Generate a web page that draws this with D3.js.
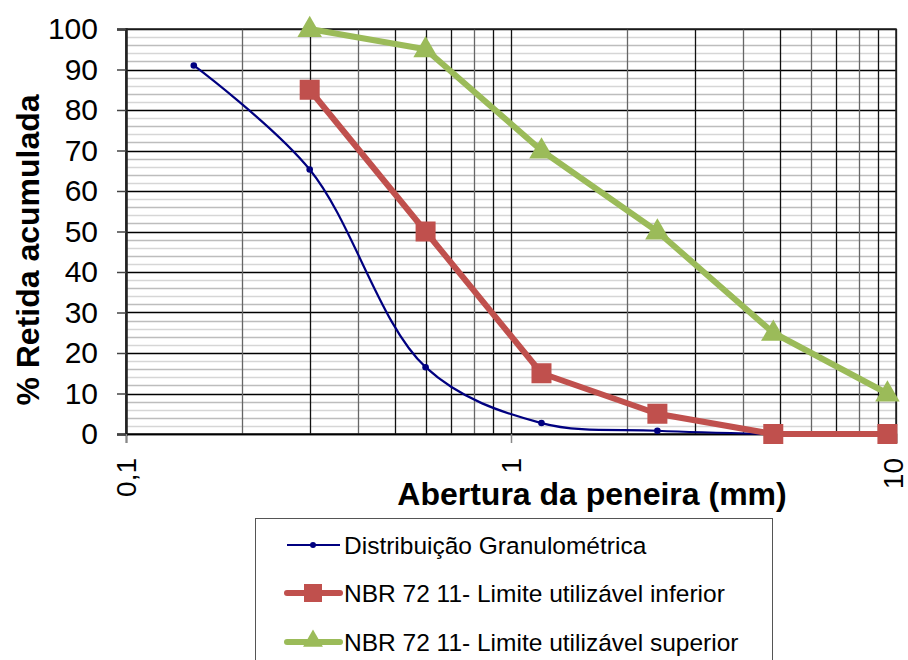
<!DOCTYPE html>
<html>
<head>
<meta charset="utf-8">
<script src="https://cdn.jsdelivr.net/npm/d3@7"></script>
<style>
  body { margin: 0; background: #fff; }
  svg { display: block; font-family: "Liberation Sans", Arial, sans-serif; }
</style>
</head>
<body>
<svg id="chart" width="908" height="660"></svg>
<script>
// sieve openings (mm) and cumulative retained (%)
const sieves = [0.15, 0.3, 0.6, 1.2, 2.4, 4.8];
const distribuicao = [91, 65.3, 16.5, 2.7, 0.8, 0];
const limSieves = [0.3, 0.6, 1.2, 2.4, 4.8, 9.5];
const limInferior = [85, 50, 15, 5, 0, 0];
const limSuperior = [100, 95, 70, 50, 25, 10];
const xTicks = [0.1, 1, 10];
const yTicks = [0, 10, 20, 30, 40, 50, 60, 70, 80, 90, 100];
const seriesNames = [
	"Distribuição Granulométrica",
	"NBR 72 11- Limite utilizável inferior",
	"NBR 72 11- Limite utilizável superior"
];

const svg = d3.select("#chart"),
	margin = {top: 29, left: 126},
	width = 770,
	height = 405;

const x = d3.scaleLog().domain([0.1, 10]).range([margin.left, margin.left + width]);
const y = d3.scaleLinear().domain([0, 100]).range([margin.top + height, margin.top]);

// horizontal grid, every 2 units
const grid = svg.append("g");
d3.range(0, 101, 2).forEach(v => {
	const major = v % 10 === 0;
	grid.append("line")
		.attr("x1", margin.left).attr("x2", margin.left + width)
		.attr("y1", Math.round(y(v)) + 0.5).attr("y2", Math.round(y(v)) + 0.5)
		.attr("stroke", major ? "#000" : (v % 4 === 0 ? "#bdbdbd" : "#d6d6d6"))
		.attr("stroke-width", major ? 1.3 : 1.6);
});

// vertical grid on every log tick
x.ticks().forEach(v => {
	const lead = +v.toPrecision(1) / Math.pow(10, Math.floor(Math.log10(v) + 1e-9));
	grid.append("line")
		.attr("x1", Math.round(x(v)) + 0.5).attr("x2", Math.round(x(v)) + 0.5)
		.attr("y1", margin.top).attr("y2", margin.top + height)
		.attr("stroke", lead % 2 === 0 ? "#666" : "#111")
		.attr("stroke-width", 1.3);
});

// plot frame
svg.append("rect")
	.attr("x", margin.left).attr("y", margin.top)
	.attr("width", width).attr("height", height)
	.attr("fill", "none").attr("stroke", "#222").attr("stroke-width", 1.5);

// y axis
const yAxis = svg.append("g")
	.attr("transform", `translate(${margin.left},0)`)
	.call(d3.axisLeft(y).tickValues(yTicks).tickSize(9).tickPadding(19))
	.call(g => g.select(".domain").attr("stroke", "#222").attr("stroke-width", 2.5));
yAxis.selectAll(".tick line").attr("stroke", "#444").attr("stroke-width", 1.5);
yAxis.selectAll("text").attr("font-size", 30).attr("fill", "#000")
	.attr("font-family", "Liberation Sans, Arial, sans-serif");

// x axis, labels turned up
const xAxis = svg.append("g")
	.attr("transform", `translate(0,${margin.top + height})`)
	.call(d3.axisBottom(x).tickValues(xTicks).tickSize(9)
		.tickFormat(d => String(d).replace(".", ",")))
	.call(g => g.select(".domain").attr("stroke", "#000").attr("stroke-width", 1.5));
xAxis.selectAll(".tick line").attr("stroke", "#888").attr("stroke-width", 1.5);
xAxis.selectAll("text")
	.attr("font-size", 28).attr("fill", "#000")
	.attr("font-family", "Liberation Sans, Arial, sans-serif")
	.attr("transform", "rotate(-90)")
	.attr("text-anchor", "end")
	.attr("x", -24).attr("y", 0).attr("dy", "0.35em");
xAxis.selectAll(".tick").filter(d => d === 10).select("text").attr("y", -3);

// axis titles
svg.append("text")
	.attr("x", 592).attr("y", 505)
	.attr("text-anchor", "middle")
	.attr("font-size", 32).attr("font-weight", "bold")
	.text("Abertura da peneira (mm)");
svg.append("text")
	.attr("transform", "translate(39,250) rotate(-90)")
	.attr("text-anchor", "middle")
	.attr("font-size", 32).attr("font-weight", "bold")
	.text("% Retida acumulada");

const line = (xs) => d3.line()
	.x((d, i) => x(xs[i]))
	.y(d => y(d));

// granulometric curve, smoothed
svg.append("path")
	.datum(distribuicao)
	.attr("fill", "none")
	.attr("stroke", "#000080")
	.attr("stroke-width", 2.2)
	.attr("d", line(sieves).curve(d3.curveCatmullRom.alpha(0.5)));
svg.selectAll(".dot")
	.data(distribuicao.slice(0, 5))
	.join("circle")
	.attr("cx", (d, i) => x(sieves[i]))
	.attr("cy", d => y(d))
	.attr("r", 3.3)
	.attr("fill", "#000080");

// lower limit
svg.append("path")
	.datum(limInferior)
	.attr("fill", "none")
	.attr("stroke", "#c0504d")
	.attr("stroke-width", 6)
	.attr("stroke-linejoin", "round")
	.attr("d", line(limSieves));
svg.selectAll(".sq")
	.data(limInferior)
	.join("rect")
	.attr("x", (d, i) => x(limSieves[i]) - 10)
	.attr("y", d => y(d) - 10)
	.attr("width", 20).attr("height", 20)
	.attr("fill", "#c0504d");

// upper limit
svg.append("path")
	.datum(limSuperior)
	.attr("fill", "none")
	.attr("stroke", "#9bbb59")
	.attr("stroke-width", 6)
	.attr("stroke-linejoin", "round")
	.attr("d", line(limSieves));
const tri = d3.symbol().type(d3.symbolTriangle).size(260);
svg.selectAll(".tri")
	.data(limSuperior)
	.join("path")
	.attr("transform", (d, i) => `translate(${x(limSieves[i])},${y(d) + 1})`)
	.attr("d", tri)
	.attr("fill", "#9bbb59");

// legend
const legend = svg.append("g");
legend.append("rect")
	.attr("x", 255.5).attr("y", 518.5)
	.attr("width", 517).attr("height", 160)
	.attr("fill", "#fff").attr("stroke", "#555").attr("stroke-width", 1);
const legColors = ["#000080", "#c0504d", "#9bbb59"];
const legY = [545, 593, 642];
seriesNames.forEach((name, i) => {
	const g = legend.append("g").attr("transform", `translate(0,${legY[i]})`);
	g.append("line")
		.attr("x1", 287).attr("x2", 340)
		.attr("stroke", legColors[i])
		.attr("stroke-width", i === 0 ? 2 : 6)
		.attr("stroke-linecap", i === 0 ? "butt" : "round");
	if (i === 0) {
		g.append("circle").attr("cx", 313).attr("r", 3).attr("fill", legColors[i]);
	} else if (i === 1) {
		g.append("rect").attr("x", 304).attr("y", -9).attr("width", 18).attr("height", 18).attr("fill", legColors[i]);
	} else {
		g.append("path").attr("transform", "translate(313,-1)")
			.attr("d", d3.symbol().type(d3.symbolTriangle).size(170)).attr("fill", legColors[i]);
	}
	g.append("text")
		.attr("x", 344).attr("dy", "0.35em")
		.attr("font-size", 24.5)
		.text(name);
});
</script>
</body>
</html>
